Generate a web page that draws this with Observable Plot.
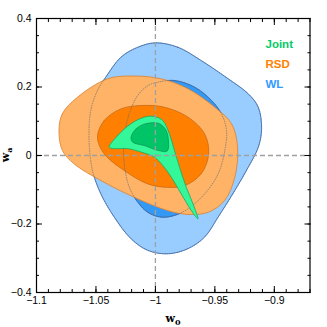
<!DOCTYPE html>
<html><head><meta charset="utf-8">
<script src="https://cdn.jsdelivr.net/npm/d3@7"></script>
<script src="https://cdn.jsdelivr.net/npm/@observablehq/plot@0.6"></script>
<style>body{margin:0;background:#fff} #chart{width:327px;height:327px}</style>
</head><body><div id="chart"></div>
<script>
// contour polygons: [w0, wa]
const wlOuter = [[-1.0,0.329],[-0.981,0.316],[-0.9614,0.277],[-0.9388,0.224],[-0.9219,0.18],[-0.9135,0.141],[-0.9107,0.078],[-0.9135,0.024],[-0.9219,-0.034],[-0.9332,-0.102],[-0.9473,-0.18],[-0.9586,-0.238],[-0.9726,-0.272],[-0.9895,-0.287],[-1.0064,-0.277],[-1.0205,-0.243],[-1.0346,-0.18],[-1.0459,-0.112],[-1.0529,-0.044],[-1.0558,0.044],[-1.0544,0.131],[-1.0487,0.19],[-1.0417,0.229],[-1.029,0.287],[-1.0149,0.316]];
const wlInner = [[-0.998,0.214],[-0.9839,0.219],[-0.967,0.1995],[-0.9529,0.161],[-0.9445,0.122],[-0.9402,0.073],[-0.9416,0.015],[-0.9473,-0.054],[-0.9586,-0.112],[-0.9726,-0.156],[-0.9839,-0.175],[-0.9952,-0.18],[-1.0064,-0.166],[-1.0149,-0.136],[-1.022,-0.092],[-1.0262,-0.024],[-1.0262,0.054],[-1.022,0.122],[-1.0149,0.175],[-1.0064,0.204]];
const rsdOuter = [[-1.0811,0.073],[-1.0783,0.122],[-1.0656,0.17],[-1.0402,0.224],[-1.0178,0.232],[-0.9952,0.224],[-0.9726,0.195],[-0.9501,0.141],[-0.936,0.093],[-0.9309,0.024],[-0.9332,-0.063],[-0.9417,-0.131],[-0.9557,-0.166],[-0.9726,-0.172],[-0.9895,-0.161],[-1.0178,-0.122],[-1.0459,-0.073],[-1.0685,-0.024],[-1.0783,0.015]];
const rsdInner = [[-1.0487,0.053],[-1.0431,0.102],[-1.029,0.136],[-1.0121,0.146],[-0.9924,0.141],[-0.9726,0.112],[-0.9586,0.063],[-0.9552,0.005],[-0.9614,-0.053],[-0.9755,-0.088],[-0.9895,-0.093],[-1.0064,-0.083],[-1.0262,-0.044],[-1.0431,0.005]];
const jointOuter = [[-1.0389,0.024],[-1.0318,0.058],[-1.0205,0.093],[-1.0093,0.112],[-1.0008,0.114],[-0.9938,0.102],[-0.9882,0.063],[-0.984,0.015],[-0.9797,-0.034],[-0.974,-0.093],[-0.9684,-0.141],[-0.9642,-0.185],[-0.9698,-0.161],[-0.9783,-0.112],[-0.9867,-0.063],[-0.9938,-0.029],[-1.0008,-0.005],[-1.0121,0.01],[-1.0233,0.02],[-1.0347,0.02]];
const jointInner = [[-1.0205,0.053],[-1.0163,0.078],[-1.0079,0.093],[-0.9966,0.093],[-0.991,0.073],[-0.989,0.039],[-0.9901,0.013],[-0.998,0.015],[-1.0093,0.029],[-1.0191,0.039]];

const xMajor = [-1.1,-1.05,-1,-0.95,-0.9];
const xTickLabels = ["−1.1","−1.05","−1","−0.95","−0.9"];
const xMinor = d3.range(-110,-86).map(d => d/100);
const yMajor = [-0.4,-0.2,0,0.2,0.4];
const yTickLabels = ["−0.4","−0.2","0","0.2","0.4"];
const yMinor = d3.range(-8,9).map(d => d/20);
const legendLabels = ["Joint","RSD","WL"];
const legendColors = ["#00cc66","#ff8000","#3399ff"];
const refW0 = [-1];
const refWa = [0];

const shape = (pts, fill, stroke, extra={}) => Plot.line(pts, {x: d=>d[0], y: d=>d[1], curve: "catmull-rom-closed", fill, stroke, strokeWidth: 0.8, ...extra});

const fontTick = {fontFamily: "Liberation Sans, Arial, sans-serif", fontSize: 10.5};

const plot = Plot.plot({
  width: 327, height: 327,
  marginLeft: 36, marginRight: 17.5, marginTop: 18, marginBottom: 35,
  x: {domain: [-1.1, -0.87], axis: null},
  y: {domain: [-0.4, 0.4], axis: null},
  style: {background: "#fff", color: "#000"},
  marks: [
    shape(wlOuter, "#99ccff", "#2f6fc4"),
    shape(wlInner, "#3399f5", "#2a66b8"),
    shape(rsdOuter, "#ffb366", "#d9822e"),
    shape(rsdInner, "#ff8000", "#c86a18"),
    shape(wlOuter, "none", "#55647a", {strokeWidth: 0.6, strokeDasharray: "0.8,1.6"}),
    shape(wlInner, "none", "#55647a", {strokeWidth: 0.6, strokeDasharray: "0.8,1.6"}),
    shape(jointOuter, "#33f799", "#18a860"),
    shape(jointInner, "#00c465", "#0a9a50"),
    Plot.ruleX(refW0, {stroke: "#a0a0a0", strokeWidth: 1.3, strokeDasharray: "5,3"}),
    Plot.ruleY(refWa, {stroke: "#a0a0a0", strokeWidth: 1.3, strokeDasharray: "5,3"}),
    Plot.frame({stroke: "#000", strokeWidth: 1.2}),
    // inward ticks
    Plot.axisX(xMajor, {anchor: "bottom", tickSize: -6, tickFormat: () => "", label: null}),
    Plot.axisX(xMinor, {anchor: "bottom", tickSize: -3, tickFormat: () => "", label: null}),
    Plot.axisX(xMajor, {anchor: "top", tickSize: -6, tickFormat: () => "", label: null}),
    Plot.axisX(xMinor, {anchor: "top", tickSize: -3, tickFormat: () => "", label: null}),
    Plot.axisY(yMajor, {anchor: "left", tickSize: -6, tickFormat: () => "", label: null}),
    Plot.axisY(yMinor, {anchor: "left", tickSize: -3, tickFormat: () => "", label: null}),
    Plot.axisY(yMajor, {anchor: "right", tickSize: -6, tickFormat: () => "", label: null}),
    Plot.axisY(yMinor, {anchor: "right", tickSize: -3, tickFormat: () => "", label: null}),
    // labels
    Plot.axisX(xMajor, {anchor: "bottom", tickSize: 0, tickPadding: 4, tickFormat: (d, i) => xTickLabels[i], label: null, ...fontTick}),
    Plot.axisY(yMajor, {anchor: "left", tickSize: 0, tickPadding: 5, tickFormat: (d, i) => yTickLabels[i], label: null, ...fontTick}),
    ...legendLabels.map((t, i) => Plot.text([t], {frameAnchor: "top-right", text: d => d, textAnchor: "start", dx: -44.5, dy: 21 + i*20, fill: legendColors[i], fontWeight: "bold", fontSize: 11.5, fontFamily: "Liberation Sans, Arial, sans-serif"}))
  ]
});

const svg = d3.select(plot);
const lab = (x, y, main, sub, rotate) => {
  const t = svg.append("text")
    .attr("transform", `translate(${x},${y})` + (rotate ? " rotate(-90)" : ""))
    .attr("text-anchor", "middle")
    .attr("font-family", "DejaVu Serif, serif")
    .attr("font-weight", "bold")
    .attr("font-size", 11)
    .attr("fill", "#000");
  t.append("tspan").text(main);
  t.append("tspan").attr("font-size", 8).attr("dy", 3).text(sub);
};
lab(173, 322, "w", "0", false);
lab(9, 155, "w", "a", true);

document.getElementById("chart").appendChild(plot);
</script>
</body></html>
